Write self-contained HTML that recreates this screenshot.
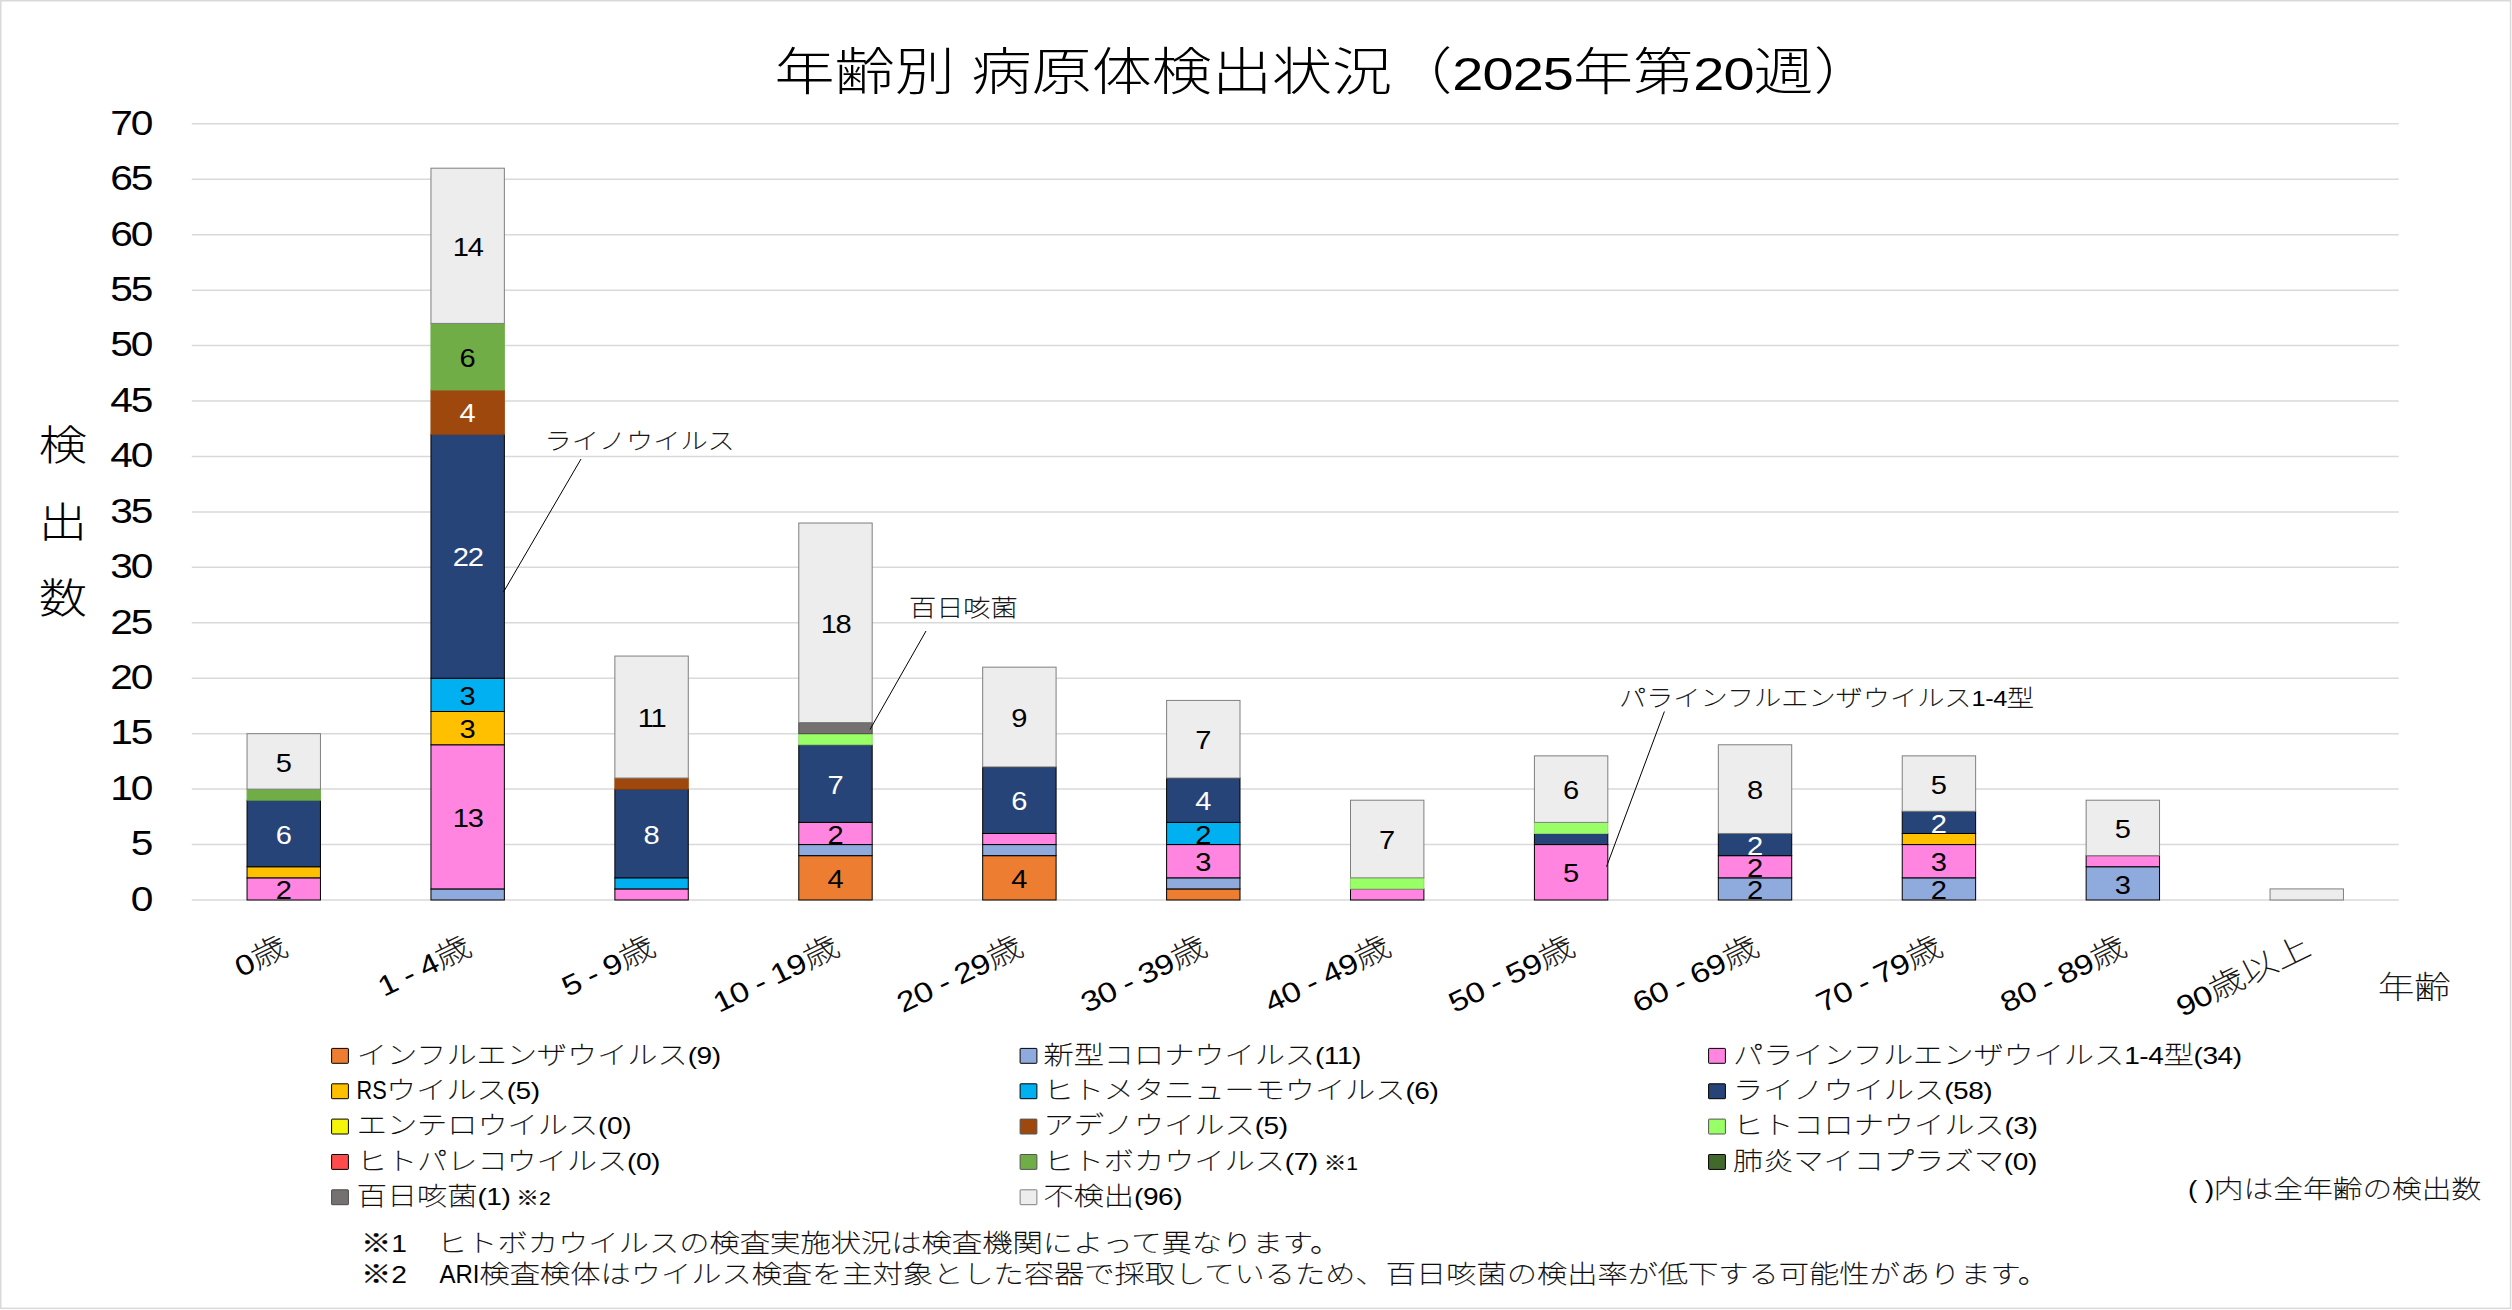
<!DOCTYPE html>
<html lang="ja"><head><meta charset="utf-8"><title>年齢別 病原体検出状況</title>
<style>
html,body{margin:0;padding:0;background:#fff;}
body{width:2512px;height:1310px;overflow:hidden;}
svg{display:block;font-family:'Liberation Sans','Noto Sans CJK JP',sans-serif;}
text{white-space:pre;}
</style></head><body>
<svg width="2512" height="1310" viewBox="0 0 2512 1310">
<rect x="0" y="0" width="2512" height="1310" fill="#fff"/>
<rect x="0.75" y="0.75" width="2509.8" height="1307.6" fill="none" stroke="#D9D9D9" stroke-width="1.5"/>
<line x1="191.8" y1="900.00" x2="2398.7" y2="900.00" stroke="#D9D9D9" stroke-width="1.5"/>
<text transform="translate(151.50 910.80) scale(1.15 1)" font-size="35.4" font-weight="400" fill="#000" text-anchor="end" letter-spacing="-1.7">0</text>
<line x1="191.8" y1="844.56" x2="2398.7" y2="844.56" stroke="#D9D9D9" stroke-width="1.5"/>
<text transform="translate(151.50 855.36) scale(1.15 1)" font-size="35.4" font-weight="400" fill="#000" text-anchor="end" letter-spacing="-1.7">5</text>
<line x1="191.8" y1="789.12" x2="2398.7" y2="789.12" stroke="#D9D9D9" stroke-width="1.5"/>
<text transform="translate(151.50 799.92) scale(1.15 1)" font-size="35.4" font-weight="400" fill="#000" text-anchor="end" letter-spacing="-1.7">10</text>
<line x1="191.8" y1="733.68" x2="2398.7" y2="733.68" stroke="#D9D9D9" stroke-width="1.5"/>
<text transform="translate(151.50 744.48) scale(1.15 1)" font-size="35.4" font-weight="400" fill="#000" text-anchor="end" letter-spacing="-1.7">15</text>
<line x1="191.8" y1="678.24" x2="2398.7" y2="678.24" stroke="#D9D9D9" stroke-width="1.5"/>
<text transform="translate(151.50 689.04) scale(1.15 1)" font-size="35.4" font-weight="400" fill="#000" text-anchor="end" letter-spacing="-1.7">20</text>
<line x1="191.8" y1="622.80" x2="2398.7" y2="622.80" stroke="#D9D9D9" stroke-width="1.5"/>
<text transform="translate(151.50 633.60) scale(1.15 1)" font-size="35.4" font-weight="400" fill="#000" text-anchor="end" letter-spacing="-1.7">25</text>
<line x1="191.8" y1="567.36" x2="2398.7" y2="567.36" stroke="#D9D9D9" stroke-width="1.5"/>
<text transform="translate(151.50 578.16) scale(1.15 1)" font-size="35.4" font-weight="400" fill="#000" text-anchor="end" letter-spacing="-1.7">30</text>
<line x1="191.8" y1="511.92" x2="2398.7" y2="511.92" stroke="#D9D9D9" stroke-width="1.5"/>
<text transform="translate(151.50 522.72) scale(1.15 1)" font-size="35.4" font-weight="400" fill="#000" text-anchor="end" letter-spacing="-1.7">35</text>
<line x1="191.8" y1="456.48" x2="2398.7" y2="456.48" stroke="#D9D9D9" stroke-width="1.5"/>
<text transform="translate(151.50 467.28) scale(1.15 1)" font-size="35.4" font-weight="400" fill="#000" text-anchor="end" letter-spacing="-1.7">40</text>
<line x1="191.8" y1="401.04" x2="2398.7" y2="401.04" stroke="#D9D9D9" stroke-width="1.5"/>
<text transform="translate(151.50 411.84) scale(1.15 1)" font-size="35.4" font-weight="400" fill="#000" text-anchor="end" letter-spacing="-1.7">45</text>
<line x1="191.8" y1="345.60" x2="2398.7" y2="345.60" stroke="#D9D9D9" stroke-width="1.5"/>
<text transform="translate(151.50 356.40) scale(1.15 1)" font-size="35.4" font-weight="400" fill="#000" text-anchor="end" letter-spacing="-1.7">50</text>
<line x1="191.8" y1="290.16" x2="2398.7" y2="290.16" stroke="#D9D9D9" stroke-width="1.5"/>
<text transform="translate(151.50 300.96) scale(1.15 1)" font-size="35.4" font-weight="400" fill="#000" text-anchor="end" letter-spacing="-1.7">55</text>
<line x1="191.8" y1="234.72" x2="2398.7" y2="234.72" stroke="#D9D9D9" stroke-width="1.5"/>
<text transform="translate(151.50 245.52) scale(1.15 1)" font-size="35.4" font-weight="400" fill="#000" text-anchor="end" letter-spacing="-1.7">60</text>
<line x1="191.8" y1="179.28" x2="2398.7" y2="179.28" stroke="#D9D9D9" stroke-width="1.5"/>
<text transform="translate(151.50 190.08) scale(1.15 1)" font-size="35.4" font-weight="400" fill="#000" text-anchor="end" letter-spacing="-1.7">65</text>
<line x1="191.8" y1="123.84" x2="2398.7" y2="123.84" stroke="#D9D9D9" stroke-width="1.5"/>
<text transform="translate(151.50 134.64) scale(1.15 1)" font-size="35.4" font-weight="400" fill="#000" text-anchor="end" letter-spacing="-1.7">70</text>
<rect x="247.05" y="877.82" width="73.4" height="22.18" fill="#FF85E1" stroke="#000000" stroke-width="1"/>
<text transform="translate(283.75 899.11) scale(1.15 1)" font-size="25.3" font-weight="400" fill="#000" text-anchor="middle">2</text>
<rect x="247.05" y="866.74" width="73.4" height="11.09" fill="#FFC000" stroke="#000000" stroke-width="1"/>
<rect x="247.05" y="800.21" width="73.4" height="66.53" fill="#264478" stroke="#000000" stroke-width="1"/>
<text transform="translate(283.75 843.67) scale(1.15 1)" font-size="25.3" font-weight="400" fill="#fff" text-anchor="middle">6</text>
<rect x="247.05" y="789.12" width="73.4" height="11.09" fill="#70AD47" stroke="#70AD47" stroke-width="1"/>
<rect x="247.05" y="733.68" width="73.4" height="55.44" fill="#EDEDED" stroke="#7F7F7F" stroke-width="1"/>
<text transform="translate(283.75 771.60) scale(1.15 1)" font-size="25.3" font-weight="400" fill="#000" text-anchor="middle">5</text>
<rect x="430.96" y="888.91" width="73.4" height="11.09" fill="#8FAADC" stroke="#000000" stroke-width="1"/>
<rect x="430.96" y="744.77" width="73.4" height="144.14" fill="#FF85E1" stroke="#000000" stroke-width="1"/>
<text transform="translate(467.66 827.04) scale(1.15 1)" font-size="25.3" font-weight="400" fill="#000" text-anchor="middle" letter-spacing="-1.2">13</text>
<rect x="430.96" y="711.50" width="73.4" height="33.26" fill="#FFC000" stroke="#000000" stroke-width="1"/>
<text transform="translate(467.66 738.34) scale(1.15 1)" font-size="25.3" font-weight="400" fill="#000" text-anchor="middle">3</text>
<rect x="430.96" y="678.24" width="73.4" height="33.26" fill="#00B0F0" stroke="#000000" stroke-width="1"/>
<text transform="translate(467.66 705.07) scale(1.15 1)" font-size="25.3" font-weight="400" fill="#000" text-anchor="middle">3</text>
<rect x="430.96" y="434.30" width="73.4" height="243.94" fill="#264478" stroke="#000000" stroke-width="1"/>
<text transform="translate(467.66 566.47) scale(1.15 1)" font-size="25.3" font-weight="400" fill="#fff" text-anchor="middle" letter-spacing="-1.2">22</text>
<rect x="430.96" y="389.95" width="73.4" height="44.35" fill="#9E480E" stroke="#9E480E" stroke-width="1"/>
<text transform="translate(467.66 422.33) scale(1.15 1)" font-size="25.3" font-weight="400" fill="#fff" text-anchor="middle">4</text>
<rect x="430.96" y="323.42" width="73.4" height="66.53" fill="#70AD47" stroke="#70AD47" stroke-width="1"/>
<text transform="translate(467.66 366.89) scale(1.15 1)" font-size="25.3" font-weight="400" fill="#000" text-anchor="middle">6</text>
<rect x="430.96" y="168.19" width="73.4" height="155.23" fill="#EDEDED" stroke="#7F7F7F" stroke-width="1"/>
<text transform="translate(467.66 256.01) scale(1.15 1)" font-size="25.3" font-weight="400" fill="#000" text-anchor="middle" letter-spacing="-1.2">14</text>
<rect x="614.87" y="888.91" width="73.4" height="11.09" fill="#FF85E1" stroke="#000000" stroke-width="1"/>
<rect x="614.87" y="877.82" width="73.4" height="11.09" fill="#00B0F0" stroke="#000000" stroke-width="1"/>
<rect x="614.87" y="789.12" width="73.4" height="88.70" fill="#264478" stroke="#000000" stroke-width="1"/>
<text transform="translate(651.57 843.67) scale(1.15 1)" font-size="25.3" font-weight="400" fill="#fff" text-anchor="middle">8</text>
<rect x="614.87" y="778.03" width="73.4" height="11.09" fill="#9E480E" stroke="#9E480E" stroke-width="1"/>
<rect x="614.87" y="656.06" width="73.4" height="121.97" fill="#EDEDED" stroke="#7F7F7F" stroke-width="1"/>
<text transform="translate(651.57 727.25) scale(1.15 1)" font-size="25.3" font-weight="400" fill="#000" text-anchor="middle" letter-spacing="-1.2">11</text>
<rect x="798.78" y="855.65" width="73.4" height="44.35" fill="#ED7D31" stroke="#000000" stroke-width="1"/>
<text transform="translate(835.48 888.02) scale(1.15 1)" font-size="25.3" font-weight="400" fill="#000" text-anchor="middle">4</text>
<rect x="798.78" y="844.56" width="73.4" height="11.09" fill="#8FAADC" stroke="#000000" stroke-width="1"/>
<rect x="798.78" y="822.38" width="73.4" height="22.18" fill="#FF85E1" stroke="#000000" stroke-width="1"/>
<text transform="translate(835.48 843.67) scale(1.15 1)" font-size="25.3" font-weight="400" fill="#000" text-anchor="middle">2</text>
<rect x="798.78" y="744.77" width="73.4" height="77.62" fill="#264478" stroke="#000000" stroke-width="1"/>
<text transform="translate(835.48 793.78) scale(1.15 1)" font-size="25.3" font-weight="400" fill="#fff" text-anchor="middle">7</text>
<rect x="798.78" y="733.68" width="73.4" height="11.09" fill="#99FF66" stroke="#8FD96A" stroke-width="1"/>
<rect x="798.78" y="722.59" width="73.4" height="11.09" fill="#767171" stroke="#4a4a4a" stroke-width="1"/>
<rect x="798.78" y="523.01" width="73.4" height="199.58" fill="#EDEDED" stroke="#7F7F7F" stroke-width="1"/>
<text transform="translate(835.48 633.00) scale(1.15 1)" font-size="25.3" font-weight="400" fill="#000" text-anchor="middle" letter-spacing="-1.2">18</text>
<rect x="982.69" y="855.65" width="73.4" height="44.35" fill="#ED7D31" stroke="#000000" stroke-width="1"/>
<text transform="translate(1019.39 888.02) scale(1.15 1)" font-size="25.3" font-weight="400" fill="#000" text-anchor="middle">4</text>
<rect x="982.69" y="844.56" width="73.4" height="11.09" fill="#8FAADC" stroke="#000000" stroke-width="1"/>
<rect x="982.69" y="833.47" width="73.4" height="11.09" fill="#FF85E1" stroke="#000000" stroke-width="1"/>
<rect x="982.69" y="766.94" width="73.4" height="66.53" fill="#264478" stroke="#000000" stroke-width="1"/>
<text transform="translate(1019.39 810.41) scale(1.15 1)" font-size="25.3" font-weight="400" fill="#fff" text-anchor="middle">6</text>
<rect x="982.69" y="667.15" width="73.4" height="99.79" fill="#EDEDED" stroke="#7F7F7F" stroke-width="1"/>
<text transform="translate(1019.39 727.25) scale(1.15 1)" font-size="25.3" font-weight="400" fill="#000" text-anchor="middle">9</text>
<rect x="1166.60" y="888.91" width="73.4" height="11.09" fill="#ED7D31" stroke="#000000" stroke-width="1"/>
<rect x="1166.60" y="877.82" width="73.4" height="11.09" fill="#8FAADC" stroke="#000000" stroke-width="1"/>
<rect x="1166.60" y="844.56" width="73.4" height="33.26" fill="#FF85E1" stroke="#000000" stroke-width="1"/>
<text transform="translate(1203.30 871.39) scale(1.15 1)" font-size="25.3" font-weight="400" fill="#000" text-anchor="middle">3</text>
<rect x="1166.60" y="822.38" width="73.4" height="22.18" fill="#00B0F0" stroke="#000000" stroke-width="1"/>
<text transform="translate(1203.30 843.67) scale(1.15 1)" font-size="25.3" font-weight="400" fill="#000" text-anchor="middle">2</text>
<rect x="1166.60" y="778.03" width="73.4" height="44.35" fill="#264478" stroke="#000000" stroke-width="1"/>
<text transform="translate(1203.30 810.41) scale(1.15 1)" font-size="25.3" font-weight="400" fill="#fff" text-anchor="middle">4</text>
<rect x="1166.60" y="700.42" width="73.4" height="77.62" fill="#EDEDED" stroke="#7F7F7F" stroke-width="1"/>
<text transform="translate(1203.30 749.42) scale(1.15 1)" font-size="25.3" font-weight="400" fill="#000" text-anchor="middle">7</text>
<rect x="1350.50" y="888.91" width="73.4" height="11.09" fill="#FF85E1" stroke="#000000" stroke-width="1"/>
<rect x="1350.50" y="877.82" width="73.4" height="11.09" fill="#99FF66" stroke="#8FD96A" stroke-width="1"/>
<rect x="1350.50" y="800.21" width="73.4" height="77.62" fill="#EDEDED" stroke="#7F7F7F" stroke-width="1"/>
<text transform="translate(1387.20 849.22) scale(1.15 1)" font-size="25.3" font-weight="400" fill="#000" text-anchor="middle">7</text>
<rect x="1534.41" y="844.56" width="73.4" height="55.44" fill="#FF85E1" stroke="#000000" stroke-width="1"/>
<text transform="translate(1571.11 882.48) scale(1.15 1)" font-size="25.3" font-weight="400" fill="#000" text-anchor="middle">5</text>
<rect x="1534.41" y="833.47" width="73.4" height="11.09" fill="#264478" stroke="#000000" stroke-width="1"/>
<rect x="1534.41" y="822.38" width="73.4" height="11.09" fill="#99FF66" stroke="#8FD96A" stroke-width="1"/>
<rect x="1534.41" y="755.86" width="73.4" height="66.53" fill="#EDEDED" stroke="#7F7F7F" stroke-width="1"/>
<text transform="translate(1571.11 799.32) scale(1.15 1)" font-size="25.3" font-weight="400" fill="#000" text-anchor="middle">6</text>
<rect x="1718.32" y="877.82" width="73.4" height="22.18" fill="#8FAADC" stroke="#000000" stroke-width="1"/>
<text transform="translate(1755.02 899.11) scale(1.15 1)" font-size="25.3" font-weight="400" fill="#000" text-anchor="middle">2</text>
<rect x="1718.32" y="855.65" width="73.4" height="22.18" fill="#FF85E1" stroke="#000000" stroke-width="1"/>
<text transform="translate(1755.02 876.94) scale(1.15 1)" font-size="25.3" font-weight="400" fill="#000" text-anchor="middle">2</text>
<rect x="1718.32" y="833.47" width="73.4" height="22.18" fill="#264478" stroke="#000000" stroke-width="1"/>
<text transform="translate(1755.02 854.76) scale(1.15 1)" font-size="25.3" font-weight="400" fill="#fff" text-anchor="middle">2</text>
<rect x="1718.32" y="744.77" width="73.4" height="88.70" fill="#EDEDED" stroke="#7F7F7F" stroke-width="1"/>
<text transform="translate(1755.02 799.32) scale(1.15 1)" font-size="25.3" font-weight="400" fill="#000" text-anchor="middle">8</text>
<rect x="1902.23" y="877.82" width="73.4" height="22.18" fill="#8FAADC" stroke="#000000" stroke-width="1"/>
<text transform="translate(1938.93 899.11) scale(1.15 1)" font-size="25.3" font-weight="400" fill="#000" text-anchor="middle">2</text>
<rect x="1902.23" y="844.56" width="73.4" height="33.26" fill="#FF85E1" stroke="#000000" stroke-width="1"/>
<text transform="translate(1938.93 871.39) scale(1.15 1)" font-size="25.3" font-weight="400" fill="#000" text-anchor="middle">3</text>
<rect x="1902.23" y="833.47" width="73.4" height="11.09" fill="#FFC000" stroke="#000000" stroke-width="1"/>
<rect x="1902.23" y="811.30" width="73.4" height="22.18" fill="#264478" stroke="#000000" stroke-width="1"/>
<text transform="translate(1938.93 832.58) scale(1.15 1)" font-size="25.3" font-weight="400" fill="#fff" text-anchor="middle">2</text>
<rect x="1902.23" y="755.86" width="73.4" height="55.44" fill="#EDEDED" stroke="#7F7F7F" stroke-width="1"/>
<text transform="translate(1938.93 793.78) scale(1.15 1)" font-size="25.3" font-weight="400" fill="#000" text-anchor="middle">5</text>
<rect x="2086.14" y="866.74" width="73.4" height="33.26" fill="#8FAADC" stroke="#000000" stroke-width="1"/>
<text transform="translate(2122.84 893.57) scale(1.15 1)" font-size="25.3" font-weight="400" fill="#000" text-anchor="middle">3</text>
<rect x="2086.14" y="855.65" width="73.4" height="11.09" fill="#FF85E1" stroke="#000000" stroke-width="1"/>
<rect x="2086.14" y="800.21" width="73.4" height="55.44" fill="#EDEDED" stroke="#7F7F7F" stroke-width="1"/>
<text transform="translate(2122.84 838.13) scale(1.15 1)" font-size="25.3" font-weight="400" fill="#000" text-anchor="middle">5</text>
<rect x="2270.05" y="888.91" width="73.4" height="11.09" fill="#EDEDED" stroke="#7F7F7F" stroke-width="1"/>
<text transform="translate(289.75 953.50) rotate(-26) scale(1.193 1)" font-size="30.4" font-weight="100" fill="#000" text-anchor="end" word-spacing="-1.5" stroke="#000" stroke-width="0.3"><tspan font-size="28.27" letter-spacing="-0.46" stroke="none">0</tspan>歳</text>
<text transform="translate(473.66 953.50) rotate(-26) scale(1.193 1)" font-size="30.4" font-weight="100" fill="#000" text-anchor="end" word-spacing="-1.5" stroke="#000" stroke-width="0.3"><tspan font-size="28.27" letter-spacing="-0.46" stroke="none">1</tspan> <tspan font-size="28.27" letter-spacing="-0.46" stroke="none">-</tspan> <tspan font-size="28.27" letter-spacing="-0.46" stroke="none">4</tspan>歳</text>
<text transform="translate(657.57 953.50) rotate(-26) scale(1.193 1)" font-size="30.4" font-weight="100" fill="#000" text-anchor="end" word-spacing="-1.5" stroke="#000" stroke-width="0.3"><tspan font-size="28.27" letter-spacing="-0.46" stroke="none">5</tspan> <tspan font-size="28.27" letter-spacing="-0.46" stroke="none">-</tspan> <tspan font-size="28.27" letter-spacing="-0.46" stroke="none">9</tspan>歳</text>
<text transform="translate(841.48 953.50) rotate(-26) scale(1.193 1)" font-size="30.4" font-weight="100" fill="#000" text-anchor="end" word-spacing="-1.5" stroke="#000" stroke-width="0.3"><tspan font-size="28.27" letter-spacing="-0.46" stroke="none">10</tspan> <tspan font-size="28.27" letter-spacing="-0.46" stroke="none">-</tspan> <tspan font-size="28.27" letter-spacing="-0.46" stroke="none">19</tspan>歳</text>
<text transform="translate(1025.39 953.50) rotate(-26) scale(1.193 1)" font-size="30.4" font-weight="100" fill="#000" text-anchor="end" word-spacing="-1.5" stroke="#000" stroke-width="0.3"><tspan font-size="28.27" letter-spacing="-0.46" stroke="none">20</tspan> <tspan font-size="28.27" letter-spacing="-0.46" stroke="none">-</tspan> <tspan font-size="28.27" letter-spacing="-0.46" stroke="none">29</tspan>歳</text>
<text transform="translate(1209.30 953.50) rotate(-26) scale(1.193 1)" font-size="30.4" font-weight="100" fill="#000" text-anchor="end" word-spacing="-1.5" stroke="#000" stroke-width="0.3"><tspan font-size="28.27" letter-spacing="-0.46" stroke="none">30</tspan> <tspan font-size="28.27" letter-spacing="-0.46" stroke="none">-</tspan> <tspan font-size="28.27" letter-spacing="-0.46" stroke="none">39</tspan>歳</text>
<text transform="translate(1393.20 953.50) rotate(-26) scale(1.193 1)" font-size="30.4" font-weight="100" fill="#000" text-anchor="end" word-spacing="-1.5" stroke="#000" stroke-width="0.3"><tspan font-size="28.27" letter-spacing="-0.46" stroke="none">40</tspan> <tspan font-size="28.27" letter-spacing="-0.46" stroke="none">-</tspan> <tspan font-size="28.27" letter-spacing="-0.46" stroke="none">49</tspan>歳</text>
<text transform="translate(1577.11 953.50) rotate(-26) scale(1.193 1)" font-size="30.4" font-weight="100" fill="#000" text-anchor="end" word-spacing="-1.5" stroke="#000" stroke-width="0.3"><tspan font-size="28.27" letter-spacing="-0.46" stroke="none">50</tspan> <tspan font-size="28.27" letter-spacing="-0.46" stroke="none">-</tspan> <tspan font-size="28.27" letter-spacing="-0.46" stroke="none">59</tspan>歳</text>
<text transform="translate(1761.02 953.50) rotate(-26) scale(1.193 1)" font-size="30.4" font-weight="100" fill="#000" text-anchor="end" word-spacing="-1.5" stroke="#000" stroke-width="0.3"><tspan font-size="28.27" letter-spacing="-0.46" stroke="none">60</tspan> <tspan font-size="28.27" letter-spacing="-0.46" stroke="none">-</tspan> <tspan font-size="28.27" letter-spacing="-0.46" stroke="none">69</tspan>歳</text>
<text transform="translate(1944.93 953.50) rotate(-26) scale(1.193 1)" font-size="30.4" font-weight="100" fill="#000" text-anchor="end" word-spacing="-1.5" stroke="#000" stroke-width="0.3"><tspan font-size="28.27" letter-spacing="-0.46" stroke="none">70</tspan> <tspan font-size="28.27" letter-spacing="-0.46" stroke="none">-</tspan> <tspan font-size="28.27" letter-spacing="-0.46" stroke="none">79</tspan>歳</text>
<text transform="translate(2128.84 953.50) rotate(-26) scale(1.193 1)" font-size="30.4" font-weight="100" fill="#000" text-anchor="end" word-spacing="-1.5" stroke="#000" stroke-width="0.3"><tspan font-size="28.27" letter-spacing="-0.46" stroke="none">80</tspan> <tspan font-size="28.27" letter-spacing="-0.46" stroke="none">-</tspan> <tspan font-size="28.27" letter-spacing="-0.46" stroke="none">89</tspan>歳</text>
<text transform="translate(2312.75 953.50) rotate(-26) scale(1.193 1)" font-size="30.4" font-weight="100" fill="#000" text-anchor="end" word-spacing="-1.5" stroke="#000" stroke-width="0.3"><tspan font-size="28.27" letter-spacing="-0.46" stroke="none">90</tspan>歳以上</text>
<text transform="translate(774.50 90.00) scale(1.188 1)" font-size="50.6" font-weight="300" fill="#000">年齢別 病原体検出状況（<tspan font-size="47.06" letter-spacing="-0.76">2025</tspan>年第<tspan font-size="47.06" letter-spacing="-0.76">20</tspan>週）</text>
<text transform="translate(63.00 460.00) scale(1.193 1)" font-size="40.5" font-weight="300" fill="#000" text-anchor="middle">検</text>
<text transform="translate(63.00 536.50) scale(1.193 1)" font-size="40.5" font-weight="300" fill="#000" text-anchor="middle">出</text>
<text transform="translate(63.00 613.00) scale(1.193 1)" font-size="40.5" font-weight="300" fill="#000" text-anchor="middle">数</text>
<text transform="translate(2378.00 998.00) scale(1.193 1)" font-size="30.4" font-weight="100" fill="#000" stroke="#000" stroke-width="0.3">年齢</text>
<line x1="581" y1="459" x2="503.5" y2="592" stroke="#000" stroke-width="1"/>
<text transform="translate(544.50 449.00) scale(1.193 1)" font-size="22.8" font-weight="100" fill="#000" stroke="#000" stroke-width="0.3">ライノウイルス</text>
<line x1="926" y1="631" x2="870" y2="729.5" stroke="#000" stroke-width="1"/>
<text transform="translate(909.00 616.00) scale(1.193 1)" font-size="22.8" font-weight="100" fill="#000" stroke="#000" stroke-width="0.3">百日咳菌</text>
<line x1="1664.4" y1="711.5" x2="1606.5" y2="866.7" stroke="#000" stroke-width="1"/>
<text transform="translate(1619.00 706.00) scale(1.193 1)" font-size="22.8" font-weight="100" fill="#000" stroke="#000" stroke-width="0.3">パラインフルエンザウイルス<tspan font-size="21.20" letter-spacing="-0.34" stroke="none">1-4</tspan>型</text>
<rect x="331.6" y="1048.4" width="16.8" height="14.9" rx="0.6" fill="#ED7D31" stroke="#000000" stroke-width="1"/>
<text transform="translate(356.80 1063.70) scale(1.193 1)" font-size="25.3" font-weight="100" fill="#000" stroke="#000" stroke-width="0.3">インフルエンザウイルス<tspan font-size="23.53" letter-spacing="-0.38" stroke="none">(9)</tspan></text>
<rect x="331.6" y="1083.8" width="16.8" height="14.9" rx="0.6" fill="#FFC000" stroke="#000000" stroke-width="1"/>
<text transform="translate(356.50 1099.05) scale(0.86 1)" font-size="25.3" font-weight="400" fill="#000">RS</text>
<text transform="translate(386.00 1099.05) scale(1.193 1)" font-size="25.3" font-weight="100" fill="#000" stroke="#000" stroke-width="0.3">ウイルス<tspan font-size="23.53" letter-spacing="-0.38" stroke="none">(5)</tspan></text>
<rect x="331.6" y="1119.1" width="16.8" height="14.9" rx="0.6" fill="#F5F50A" stroke="#000000" stroke-width="1"/>
<text transform="translate(356.80 1134.40) scale(1.193 1)" font-size="25.3" font-weight="100" fill="#000" stroke="#000" stroke-width="0.3">エンテロウイルス<tspan font-size="23.53" letter-spacing="-0.38" stroke="none">(0)</tspan></text>
<rect x="331.6" y="1154.5" width="16.8" height="14.9" rx="0.6" fill="#FF4B4B" stroke="#000000" stroke-width="1"/>
<text transform="translate(356.80 1169.75) scale(1.193 1)" font-size="25.3" font-weight="100" fill="#000" stroke="#000" stroke-width="0.3">ヒトパレコウイルス<tspan font-size="23.53" letter-spacing="-0.38" stroke="none">(0)</tspan></text>
<rect x="331.6" y="1189.8" width="16.8" height="14.9" rx="0.6" fill="#767171" stroke="#4a4a4a" stroke-width="1"/>
<text transform="translate(356.80 1205.10) scale(1.193 1)" font-size="25.3" font-weight="100" fill="#000" stroke="#000" stroke-width="0.3">百日咳菌<tspan font-size="23.53" letter-spacing="-0.38" stroke="none">(1)</tspan><tspan font-size="19" dx="5">※<tspan font-size="17.7" stroke="none">2</tspan></tspan></text>
<rect x="1020.1" y="1048.4" width="16.8" height="14.9" rx="0.6" fill="#8FAADC" stroke="#000000" stroke-width="1"/>
<text transform="translate(1043.50 1063.70) scale(1.193 1)" font-size="25.3" font-weight="100" fill="#000" stroke="#000" stroke-width="0.3">新型コロナウイルス<tspan font-size="23.53" letter-spacing="-0.38" stroke="none">(11)</tspan></text>
<rect x="1020.1" y="1083.8" width="16.8" height="14.9" rx="0.6" fill="#00B0F0" stroke="#000000" stroke-width="1"/>
<text transform="translate(1043.50 1099.05) scale(1.193 1)" font-size="25.3" font-weight="100" fill="#000" stroke="#000" stroke-width="0.3">ヒトメタニューモウイルス<tspan font-size="23.53" letter-spacing="-0.38" stroke="none">(6)</tspan></text>
<rect x="1020.1" y="1119.1" width="16.8" height="14.9" rx="0.6" fill="#9E480E" stroke="#555" stroke-width="1"/>
<text transform="translate(1043.50 1134.40) scale(1.193 1)" font-size="25.3" font-weight="100" fill="#000" stroke="#000" stroke-width="0.3">アデノウイルス<tspan font-size="23.53" letter-spacing="-0.38" stroke="none">(5)</tspan></text>
<rect x="1020.1" y="1154.5" width="16.8" height="14.9" rx="0.6" fill="#70AD47" stroke="#555" stroke-width="1"/>
<text transform="translate(1043.50 1169.75) scale(1.193 1)" font-size="25.3" font-weight="100" fill="#000" stroke="#000" stroke-width="0.3">ヒトボカウイルス<tspan font-size="23.53" letter-spacing="-0.38" stroke="none">(7)</tspan><tspan font-size="19" dx="5">※<tspan font-size="17.7" stroke="none">1</tspan></tspan></text>
<rect x="1020.1" y="1189.8" width="16.8" height="14.9" rx="0.6" fill="#EDEDED" stroke="#7F7F7F" stroke-width="1"/>
<text transform="translate(1043.50 1205.10) scale(1.193 1)" font-size="25.3" font-weight="100" fill="#000" stroke="#000" stroke-width="0.3">不検出<tspan font-size="23.53" letter-spacing="-0.38" stroke="none">(96)</tspan></text>
<rect x="1708.6" y="1048.4" width="16.8" height="14.9" rx="0.6" fill="#FF85E1" stroke="#000000" stroke-width="1"/>
<text transform="translate(1733.00 1063.70) scale(1.193 1)" font-size="25.3" font-weight="100" fill="#000" stroke="#000" stroke-width="0.3">パラインフルエンザウイルス<tspan font-size="23.53" letter-spacing="-0.38" stroke="none">1-4</tspan>型<tspan font-size="23.53" letter-spacing="-0.38" stroke="none">(34)</tspan></text>
<rect x="1708.6" y="1083.8" width="16.8" height="14.9" rx="0.6" fill="#264478" stroke="#000000" stroke-width="1"/>
<text transform="translate(1733.00 1099.05) scale(1.193 1)" font-size="25.3" font-weight="100" fill="#000" stroke="#000" stroke-width="0.3">ライノウイルス<tspan font-size="23.53" letter-spacing="-0.38" stroke="none">(58)</tspan></text>
<rect x="1708.6" y="1119.1" width="16.8" height="14.9" rx="0.6" fill="#99FF66" stroke="#555" stroke-width="1"/>
<text transform="translate(1733.00 1134.40) scale(1.193 1)" font-size="25.3" font-weight="100" fill="#000" stroke="#000" stroke-width="0.3">ヒトコロナウイルス<tspan font-size="23.53" letter-spacing="-0.38" stroke="none">(3)</tspan></text>
<rect x="1708.6" y="1154.5" width="16.8" height="14.9" rx="0.6" fill="#43682B" stroke="#000000" stroke-width="1"/>
<text transform="translate(1733.00 1169.75) scale(1.193 1)" font-size="25.3" font-weight="100" fill="#000" stroke="#000" stroke-width="0.3">肺炎マイコプラズマ<tspan font-size="23.53" letter-spacing="-0.38" stroke="none">(0)</tspan></text>
<text transform="translate(2188.00 1198.00) scale(1.175 1)" font-size="25.3" font-weight="100" fill="#000" stroke="#000" stroke-width="0.3"><tspan font-size="23.53" letter-spacing="-0.38" stroke="none">(</tspan> <tspan font-size="23.53" letter-spacing="-0.38" stroke="none">)</tspan>内は全年齢の検出数</text>
<text transform="translate(361.00 1251.50) scale(1.198 1)" font-size="25.3" font-weight="100" fill="#000" stroke="#000" stroke-width="0.3">※<tspan font-size="23.53" letter-spacing="-0.38" stroke="none">1</tspan>　ヒトボカウイルスの検査実施状況は検査機関によって異なります。</text>
<text transform="translate(361.00 1282.60) scale(1.198 1)" font-size="25.3" font-weight="100" fill="#000" stroke="#000" stroke-width="0.3">※<tspan font-size="23.53" letter-spacing="-0.38" stroke="none">2</tspan></text>
<text transform="translate(439.50 1282.60) scale(0.95 1)" font-size="25.3" font-weight="400" fill="#000">ARI</text>
<text transform="translate(479.50 1282.60) scale(1.1955 1)" font-size="25.3" font-weight="100" fill="#000" stroke="#000" stroke-width="0.3">検査検体はウイルス検査を主対象とした容器で採取しているため、百日咳菌の検出率が低下する可能性があります。</text>
</svg>
</body></html>
